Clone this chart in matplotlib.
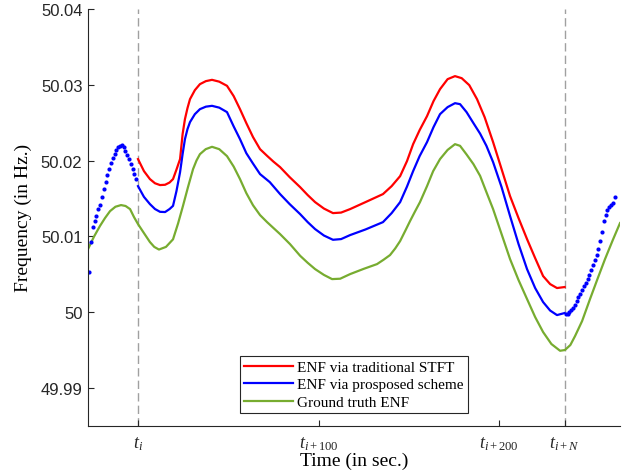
import matplotlib
matplotlib.use("Agg")
import matplotlib.pyplot as plt

# time axis is in seconds, t_i = 0
t_N = 236.3

# ground truth ENF
gt_t = [-27.7, -24.5, -21.1, -18.3, -15.5, -12.5, -9.4, -6.9, -4.4, -2.2, 0.0, 3.3, 6.6,
        9.0, 11.6, 15.5, 19.4, 22.2, 24.9, 27.7, 30.5, 32.4, 34.3, 37.5, 41.0, 45.0, 49.3,
        53.0, 56.5, 60.0, 63.7, 67.6, 71.5, 75.0, 78.7, 84.2, 89.8, 94.0, 98.1, 103.0,
        107.5, 112.0, 117.5, 125.0, 132.4, 136.0, 139.6, 142.5, 145.2, 148.0, 150.7, 153.5,
        156.2, 160.1, 163.5, 167.3, 171.5, 175.6, 178.4, 182.0, 185.8, 189.5, 193.0, 196.7,
        201.4, 206.1, 210.8, 215.5, 220.0, 224.4, 229.0, 233.8, 236.5, 239.5, 242.1, 246.0,
        250.4, 254.5, 258.7, 263.0, 267.0]
gt_f = [50.00830, 50.00990, 50.01135, 50.01240, 50.01332, 50.01390, 50.01412, 50.01400,
        50.01359, 50.01253, 50.01161, 50.01042, 50.00924, 50.00860, 50.00825, 50.00860,
        50.00960, 50.01170, 50.01400, 50.01650, 50.01887, 50.02000, 50.02084, 50.02150,
        50.02181, 50.02150, 50.02058, 50.01920, 50.01755, 50.01570, 50.01410, 50.01280,
        50.01187, 50.01110, 50.01029, 50.00897, 50.00743, 50.00650, 50.00567, 50.00490,
        50.00435, 50.00440, 50.00501, 50.00570, 50.00633, 50.00690, 50.00752, 50.00840,
        50.00937, 50.01070, 50.01201, 50.01330, 50.01451, 50.01662, 50.01860, 50.02019,
        50.02140, 50.02216, 50.02194, 50.02080, 50.01953, 50.01798, 50.01583, 50.01359,
        50.01029, 50.00699, 50.00422, 50.00172, 49.99934, 49.99736, 49.99578, 49.99489,
        49.99499, 49.99565, 49.99683, 49.99881, 50.00172, 50.00435, 50.00699, 50.00950,
        50.01174]

# ENF via proposed scheme (inside the window)
prop_t = [0.0, 3.3, 6.6, 9.4, 12.2, 15.0, 17.5, 19.4, 21.3, 23.3, 24.7, 26.0, 27.4, 28.8,
          31.5, 34.3, 37.6, 41.0, 45.0, 49.3, 53.0, 56.5, 60.0, 63.7, 67.6, 73.0, 78.7,
          84.0, 89.8, 94.0, 98.1, 103.0, 108.0, 112.5, 117.5, 126.0, 135.7, 140.5, 145.2,
          149.0, 152.4, 156.0, 160.1, 163.7, 167.3, 171.5, 175.6, 178.4, 182.0, 185.8,
          189.5, 193.0, 196.7, 201.4, 206.1, 210.8, 215.5, 220.0, 224.4, 228.3, 232.1, 236.3]
prop_f = [50.01662, 50.01520, 50.01425, 50.01360, 50.01323, 50.01320, 50.01360, 50.01402,
          50.01596, 50.01847, 50.02084, 50.02282, 50.02414, 50.02507, 50.02612, 50.02678,
          50.02711, 50.02722, 50.02698, 50.02639, 50.02450, 50.02282, 50.02097, 50.01960,
          50.01821, 50.01715, 50.01557, 50.01425, 50.01293, 50.01187, 50.01095, 50.01010,
          50.00954, 50.00963, 50.01016, 50.01090, 50.01187, 50.01306, 50.01451, 50.01656,
          50.01860, 50.02058, 50.02243, 50.02441, 50.02612, 50.02705, 50.02757, 50.02744,
          50.02639, 50.02494, 50.02355, 50.02194, 50.01979, 50.01649, 50.01267, 50.00897,
          50.00567, 50.00317, 50.00132, 50.00020, 49.99960, 49.99987]

# ENF via traditional STFT
stft_t = [0.0, 3.3, 6.6, 9.4, 12.2, 15.0, 17.5, 19.4, 21.3, 23.3, 24.7, 26.0, 27.4, 28.8,
          31.5, 34.3, 37.6, 41.0, 45.0, 49.3, 53.0, 56.5, 60.0, 63.7, 67.6, 71.5, 75.0,
          78.7, 84.0, 89.8, 94.0, 98.1, 103.0, 108.0, 112.5, 117.5, 126.0, 135.7, 140.5,
          145.2, 149.0, 152.4, 156.0, 160.1, 163.7, 167.3, 171.5, 175.6, 179.3, 183.5,
          187.8, 192.0, 196.7, 201.4, 206.1, 210.8, 215.5, 220.0, 224.4, 228.3, 232.1, 236.3]
stft_f = [50.02019, 50.01860, 50.01755, 50.01700, 50.01676, 50.01680, 50.01710, 50.01755,
          50.01880, 50.02019, 50.02348, 50.02546, 50.02691, 50.02810, 50.02929, 50.03008,
          50.03048, 50.03065, 50.03041, 50.02986, 50.02850, 50.02678, 50.02494, 50.02310,
          50.02150, 50.02062, 50.01986, 50.01913, 50.01781, 50.01649, 50.01544, 50.01451,
          50.01366, 50.01306, 50.01313, 50.01359, 50.01451, 50.01557, 50.01662, 50.01794,
          50.01992, 50.02216, 50.02401, 50.02586, 50.02784, 50.02942, 50.03074, 50.03114,
          50.03087, 50.02995, 50.02810, 50.02573, 50.02243, 50.01887, 50.01530, 50.01240,
          50.00963, 50.00712, 50.00475, 50.00369, 50.00317, 50.00330]

# proposed scheme, dotted parts before t_i and after t_{i+N}
pre_t = list(range(-27, 0))
pre_f = [50.00532, 50.00924, 50.01121, 50.01201, 50.01267, 50.01359, 50.01412, 50.01517,
         50.01623, 50.01715, 50.01807, 50.01887, 50.01966, 50.02032, 50.02084, 50.02137,
         50.02177, 50.02197, 50.02203, 50.02177, 50.02131, 50.02078, 50.02019, 50.01953,
         50.01887, 50.01821, 50.01755]
post_t = list(range(237, 265))
post_f = [49.99974, 49.99980, 50.00000, 50.00026, 50.00059, 50.00099, 50.00145, 50.00198,
          50.00244, 50.00290, 50.00343, 50.00383, 50.00435, 50.00488, 50.00554, 50.00620,
          50.00686, 50.00752, 50.00831, 50.00937, 50.01055, 50.01201, 50.01286, 50.01346,
          50.01392, 50.01412, 50.01445, 50.01524]

xtick_pos = [0, 100, 200, t_N]
xtick_lab = [r"$t_i$", r"$t_{i+100}$", r"$t_{i+200}$", r"$t_{i+N}$"]
ytick_pos = [49.99, 50.00, 50.01, 50.02, 50.03, 50.04]
ytick_lab = ["49.99", "50", "50.01", "50.02", "50.03", "50.04"]

plt.rcParams["mathtext.fontset"] = "custom"
plt.rcParams["mathtext.rm"] = "Liberation Serif"
plt.rcParams["mathtext.it"] = "Liberation Serif:italic"
plt.rcParams["mathtext.sf"] = "Liberation Serif"
plt.rcParams["mathtext.bf"] = "Liberation Serif:bold"

fig = plt.figure(figsize=(6.26, 4.77), dpi=100)
ax = fig.add_axes([88 / 626, 1 - 426.7 / 477, 532 / 626, 416.7 / 477])

ax.axvline(0, color="#a0a0a0", lw=1.0, ls=(0, (6, 3)), zorder=1)
ax.axvline(t_N, color="#a0a0a0", lw=1.0, ls=(0, (6, 3)), zorder=1)

ax.plot(stft_t, stft_f, color="#ff0000", lw=1.6, label="ENF via traditional STFT")
ax.plot(prop_t, prop_f, color="#0000ff", lw=1.6, label="ENF via prosposed scheme")
ax.plot(gt_t, gt_f, color="#77ac30", lw=1.6, label="Ground truth ENF")
ax.plot(pre_t, pre_f, ls="none", marker="o", ms=3, mew=0, color="#0000ff")
ax.plot(post_t, post_f, ls="none", marker="o", ms=3, mew=0, color="#0000ff")

ax.set_xlim(-27.7, 267.0)
ax.set_ylim(49.985, 50.04)

ax.set_xticks(xtick_pos)
ax.set_xticklabels(xtick_lab, fontsize=13)
ax.set_yticks(ytick_pos)
ax.set_yticklabels(ytick_lab, fontsize=12, family="Liberation Sans")

ax.spines["top"].set_visible(False)
ax.spines["right"].set_visible(False)
for s in ["left", "bottom"]:
    ax.spines[s].set_color("#262626")
    ax.spines[s].set_linewidth(0.8)
ax.tick_params(direction="in", length=4, width=0.8, color="#262626", labelcolor="#262626")
ax.tick_params(axis="x", pad=6)
ax.tick_params(axis="y", pad=4)

ax.set_xlabel("Time (in sec.)", fontsize=14, family="Liberation Serif", labelpad=0)
ax.set_ylabel("Frequency (in Hz.)", fontsize=14, family="Liberation Serif", labelpad=6)

leg = ax.legend(loc="lower center", bbox_to_anchor=(0.5, 0.0), borderaxespad=0.8,
                prop={"family": "Liberation Serif", "size": 11}, handlelength=3.2,
                handletextpad=0.25, labelspacing=0.25, borderpad=0.3,
                fancybox=False, framealpha=1, edgecolor="#262626")
leg.get_frame().set_linewidth(0.8)

fig.savefig("out.png", dpi=100)
